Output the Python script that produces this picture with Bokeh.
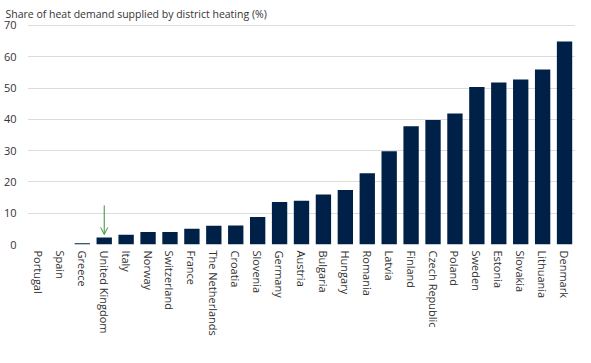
from bokeh.plotting import figure
from bokeh.models import Arrow, OpenHead, Title, ColumnDataSource
from bokeh.embed import file_html
from bokeh.resources import INLINE

countries = ["Portugal", "Spain", "Greece", "United Kingdom", "Italy", "Norway",
             "Switzerland", "France", "The Netherlands", "Croatia", "Slovenia",
             "Germany", "Austria", "Bulgaria", "Hungary", "Romania", "Latvia",
             "Finland", "Czech Republic", "Poland", "Sweden", "Estonia",
             "Slovakia", "Lithuania", "Denmark"]
share = [0.0, 0.0, 0.4, 2.2, 3.1, 4.0, 4.0, 5.0, 6.0, 6.1, 8.8, 13.6, 14.0,
         16.0, 17.4, 22.8, 29.8, 37.8, 39.8, 41.9, 50.3, 51.8, 52.7, 55.9, 64.9]
y_ticks = [0, 10, 20, 30, 40, 50, 60, 70]
highlight = ["United Kingdom"]
arrow_from = [12.5]
arrow_to = [3.2]

FONT = "Open Sans"
TXT = "#333333"

p = figure(x_range=countries, y_range=(0, 70.3), width=575, height=338,
           output_backend="svg", toolbar_location=None,
           min_border_left=25, min_border_right=0, min_border_bottom=0)
p.title.text = ""
t = Title(text="Share of heat demand supplied by district heating (%)",
          align="left", offset=-22, text_font=FONT, text_font_size="10.5px",
          text_font_style="normal", text_color=TXT, standoff=8)
p.add_layout(t, "above")

p.vbar(x=countries, top=share, width=0.7, fill_color="#002147", line_color=None)

asrc = ColumnDataSource(dict(x=highlight, y0=arrow_from, y1=arrow_to))
p.add_layout(Arrow(end=OpenHead(size=7, line_color="#3a8f3a", line_width=1),
                   x_start="x", y_start="y0", x_end="x", y_end="y1",
                   source=asrc, line_color="#3a8f3a", line_width=1))

p.outline_line_color = None
p.xgrid.grid_line_color = None
p.ygrid.grid_line_color = "#dcdcdc"
p.ygrid.grid_line_width = 1
p.yaxis.ticker = y_ticks
p.yaxis.axis_line_color = None
p.yaxis.major_tick_line_color = None
p.yaxis.minor_tick_line_color = None
p.yaxis.major_tick_out = 0
p.yaxis.major_tick_in = 0
p.yaxis.minor_tick_out = 0
p.yaxis.major_label_text_font = FONT
p.yaxis.major_label_text_font_size = "11px"
p.yaxis.major_label_text_color = TXT
p.yaxis.major_label_standoff = 11

p.xaxis.axis_line_color = None
p.xaxis.major_tick_line_color = None
p.xaxis.major_tick_out = 0
p.xaxis.major_tick_in = 0
p.xaxis.major_label_orientation = "vertical"
p.xaxis.major_label_text_font = FONT
p.xaxis.major_label_text_font_size = "11px"
p.xaxis.major_label_text_color = TXT
p.xaxis.major_label_standoff = 6
p.x_range.range_padding = 0

open("out.html", "w").write(file_html(p, INLINE))
